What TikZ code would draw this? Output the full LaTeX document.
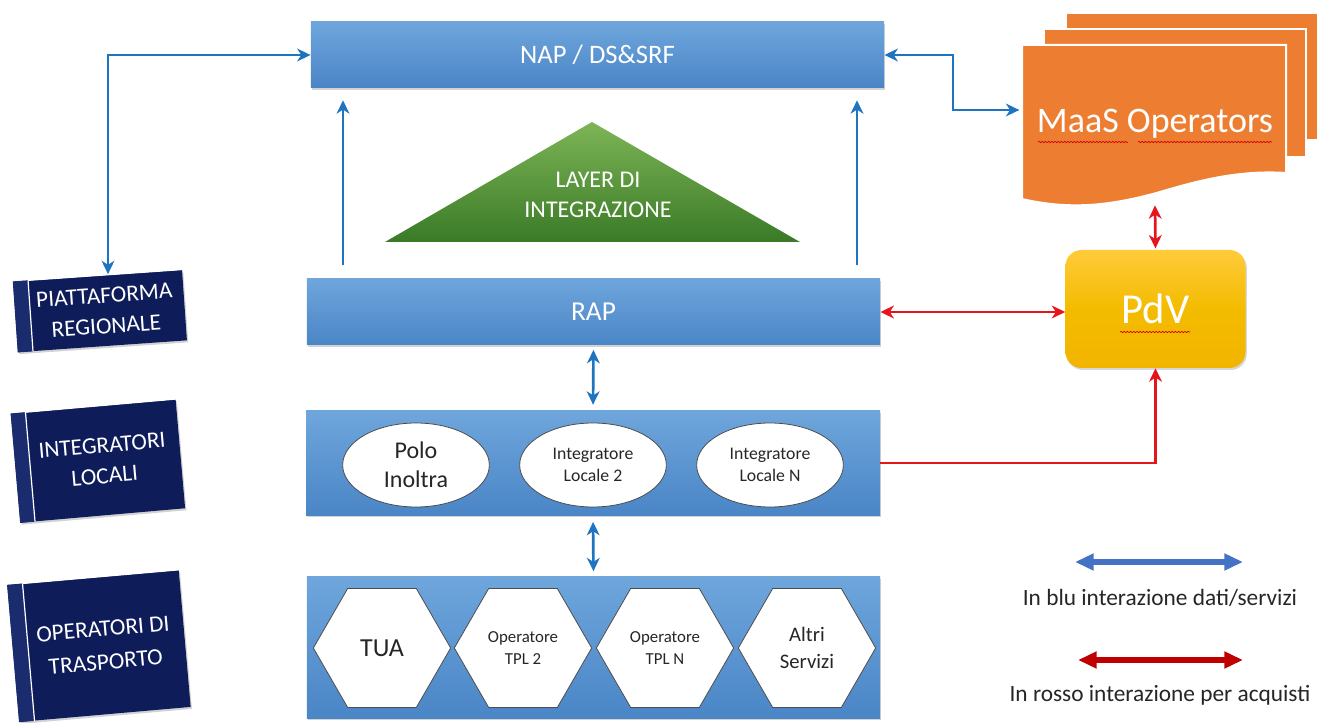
\documentclass[tikz,border=0pt]{standalone}
\usepackage{fontspec}
\setmainfont{Carlito}
\usetikzlibrary{shapes.geometric,arrows.meta,shadows,decorations.pathmorphing,calc}
\definecolor{boxtop}{HTML}{6EA6DC}
\definecolor{boxbot}{HTML}{4A85C6}
\definecolor{arrblue}{HTML}{1F74BF}
\definecolor{arrred}{HTML}{E8141C}
\definecolor{navy}{HTML}{0E1C5A}
\definecolor{navyside}{HTML}{1A2C6E}
\definecolor{orangeM}{HTML}{ED7D31}
\definecolor{greentop}{HTML}{7DB556}
\definecolor{greenbot}{HTML}{3A7A27}
\definecolor{pdvtop}{HTML}{FFCB3A}
\definecolor{pdvbot}{HTML}{F2B400}
\definecolor{legblue}{HTML}{4472C4}
\definecolor{legred}{HTML}{C00000}
\begin{document}
\begin{tikzpicture}[x=0.75pt,y=-0.75pt,
  bluebox/.style={rectangle, inner sep=0pt, top color=boxtop, bottom color=boxbot, draw=none,
    drop shadow={opacity=0.35, shadow xshift=0.8pt, shadow yshift=-1.5pt},
    text=white, font=\fontsize{20}{24}\selectfont},
  navyblk/.style={rectangle, inner sep=0pt, fill=navy, text=white, align=center,
    transform shape, drop shadow={opacity=0.35, shadow xshift=1pt, shadow yshift=-1.5pt},
    font=\fontsize{17.5}{23}\selectfont},
  ell/.style={ellipse, fill=white, draw=black!70, line width=0.6pt, minimum width=110pt,
    minimum height=63pt, inner sep=0pt, align=center, text=black!85},
  hexa/.style={regular polygon, regular polygon sides=6, fill=white, draw=black!70,
    line width=0.6pt, minimum size=103pt, inner sep=0pt, align=center, text=black!85},
  barrow/.style={draw=arrblue, line width=2pt, arrows={-Stealth[length=10pt,width=9.5pt,inset=3pt]}},
  barrow2/.style={draw=arrblue, line width=2pt, arrows={Stealth[length=10pt,width=9.5pt,inset=3pt]-Stealth[length=10pt,width=9.5pt,inset=3pt]}},
  rarrow/.style={draw=arrred, line width=2pt, arrows={-Stealth[length=10pt,width=9.5pt,inset=3pt]}},
  rarrow2/.style={draw=arrred, line width=2pt, arrows={Stealth[length=10pt,width=9.5pt,inset=3pt]-Stealth[length=10pt,width=9.5pt,inset=3pt]}},
  squig/.style={draw=red!80!black, line width=0.5pt, decorate, decoration={snake, amplitude=0.5pt, segment length=2.4pt}}
]
\useasboundingbox (0,0) rectangle (1317,723);
\fill[white] (0,0) rectangle (1317,723);

% ---------- main blue boxes ----------
\node[bluebox, minimum width=430pt, minimum height=49.5pt] (nap) at (597.5,55) {NAP / DS\&SRF};
\node[bluebox, minimum width=430pt, minimum height=49.5pt, font=\fontsize{20.5}{24}\selectfont] (rap) at (593.5,312) {RAP};
\node[bluebox, minimum width=430.5pt, minimum height=78pt] (int) at (593,463) {};
\node[bluebox, minimum width=430pt, minimum height=106pt] (ops) at (593.5,647.5) {};

% ---------- triangle ----------
\coordinate (tA) at (592,122);
\coordinate (tB) at (385,242);
\coordinate (tC) at (800,242);
\shade[top color=greentop, bottom color=greenbot] (tA) -- (tC) -- (tB) -- cycle;
\node[text=white, align=center, font=\fontsize{18}{23}\selectfont] (layer) at (598,195) {LAYER DI\\INTEGRAZIONE};

% ---------- ellipses ----------
\node[ell, font=\fontsize{18}{22}\selectfont] (e1) at (416,465) {Polo\\Inoltra};
\node[ell, font=\fontsize{13.3}{17}\selectfont] (e2) at (593,465) {Integratore\\Locale 2};
\node[ell, font=\fontsize{13.3}{17}\selectfont] (e3) at (770,465) {Integratore\\Locale N};

% ---------- hexagons ----------
\node[hexa, font=\fontsize{19.5}{23}\selectfont] (h1) at (382,648) {TUA};
\node[hexa, font=\fontsize{12.6}{17}\selectfont] (h2) at (523,648) {Operatore\\TPL 2};
\node[hexa, font=\fontsize{12.6}{17}\selectfont] (h3) at (665,648) {Operatore\\TPL N};
\node[hexa, font=\fontsize{15.5}{20}\selectfont] (h4) at (807,648) {Altri\\Servizi};

% ---------- left navy blocks ----------
\node[navyblk, rotate=4, minimum width=127pt, minimum height=53pt] (pr) at (100,311) {\hspace*{8pt}PIATTAFORMA\\\hspace*{8pt}REGIONALE};
\node[navyblk, rotate=5, minimum width=124pt, minimum height=82pt] (il) at (98,461) {\hspace*{8pt}INTEGRATORI\\\hspace*{8pt}LOCALI};
\node[navyblk, rotate=5, minimum width=129pt, minimum height=103pt, font=\fontsize{17.5}{25}\selectfont] (ot) at (99,646) {\hspace*{8pt}OPERATORI DI\\\hspace*{8pt}TRASPORTO};
\foreach \b in {pr,il,ot}{
  \fill[navyside] (\b.north west) -- ($(\b.north west)!0.09!(\b.north east)$) -- ($(\b.south west)!0.09!(\b.south east)$) -- (\b.south west) -- cycle;
  \draw[white, line width=0.9pt] ($(\b.north west)!0.09!(\b.north east)$) -- ($(\b.south west)!0.09!(\b.south east)$);
  \draw[white, line width=0.9pt] ($(\b.north west)!0.09!(\b.north east)$) -- (\b.north east);
}

% ---------- MaaS operators ----------
\begin{scope}[draw=white, line width=1.5pt]
\filldraw[fill=orangeM] (1066,13) -- (1330,13) -- (1330,140) -- (1066,140) -- cycle;
\filldraw[fill=orangeM] (1044,29) -- (1306,29) -- (1306,157) -- (1044,157) -- cycle;
\filldraw[fill=orangeM] (1022,45) -- (1286,45) -- (1286,173)
   .. controls (1240,170) and (1200,180) .. (1160,192)
   .. controls (1110,206) and (1070,210) .. (1022,199) -- cycle;
\end{scope}
\node[text=white, font=\fontsize{27}{31}\selectfont] (maas) at (1155,124) {MaaS Operators};
\path[squig] (1038,142) -- (1128,142);
\path[squig] (1138,142) -- (1272,142);
\coordinate (mL) at (1022,110);
\coordinate (mB) at (1155,204);

% ---------- PdV ----------
\node[rectangle, rounded corners=12pt, minimum width=135pt, minimum height=88.5pt,
  top color=pdvtop, bottom color=pdvbot, middle color=pdvbot!90!yellow,
  drop shadow={opacity=0.3, shadow xshift=1pt, shadow yshift=-1.5pt},
  text=white, font=\fontsize{32}{36}\selectfont] (pdv) at (1155.5,309) {PdV};
\path[squig] (1120,332) -- (1190,332);

% ---------- blue connectors ----------
\coordinate (xL) at (343,0);
\coordinate (xR) at (857,0);
\draw[barrow, shorten <=10pt, shorten >=9pt] (rap.north -| xL) -- (nap.south -| xL);
\draw[barrow, shorten <=10pt, shorten >=9pt] (rap.north -| xR) -- (nap.south -| xR);
\draw[barrow2, shorten <=3.5pt, shorten >=4.5pt] (rap.south) -- (int.north);
\draw[barrow2, shorten <=5pt, shorten >=4pt] (int.south) -- (ops.north);
\coordinate (cL) at (108,55);
\draw[barrow2, shorten <=1pt] (pr.north -| cL) -- (cL) -- (nap.west);
\coordinate (cR1) at (953,55);
\coordinate (cR2) at (953,110);
\draw[barrow2, shorten >=2pt] (nap.east) -- (cR1) -- (cR2) -- (mL);

% ---------- red connectors ----------
\draw[rarrow2] (rap.east) -- (rap.east -| pdv.west);
\draw[rarrow] (int.east) -- (int.east -| pdv.south) -- (pdv.south);
\draw[rarrow2, shorten <=1pt, shorten >=1pt] (mB) -- (pdv.north);

% ---------- legend ----------
\coordinate (lb1) at (1075,562);
\coordinate (lb2) at (1243,562);
\coordinate (lr1) at (1078,660);
\coordinate (lr2) at (1243,660);
\draw[legblue, line width=4.5pt, arrows={Triangle[length=14pt,width=12pt]-Triangle[length=14pt,width=12pt]}] (lb1) -- (lb2);
\draw[legred, line width=4.5pt, arrows={Triangle[length=14pt,width=12pt]-Triangle[length=14pt,width=12pt]}] (lr1) -- (lr2);
\node[text=black!85, font=\fontsize{17.5}{21}\selectfont] (tb) at (1160,598) {In blu interazione dati/servizi};
\node[text=black!85, font=\fontsize{17.5}{21}\selectfont] (tr) at (1160,695) {In rosso interazione per acquisti};
\end{tikzpicture}
\end{document}
